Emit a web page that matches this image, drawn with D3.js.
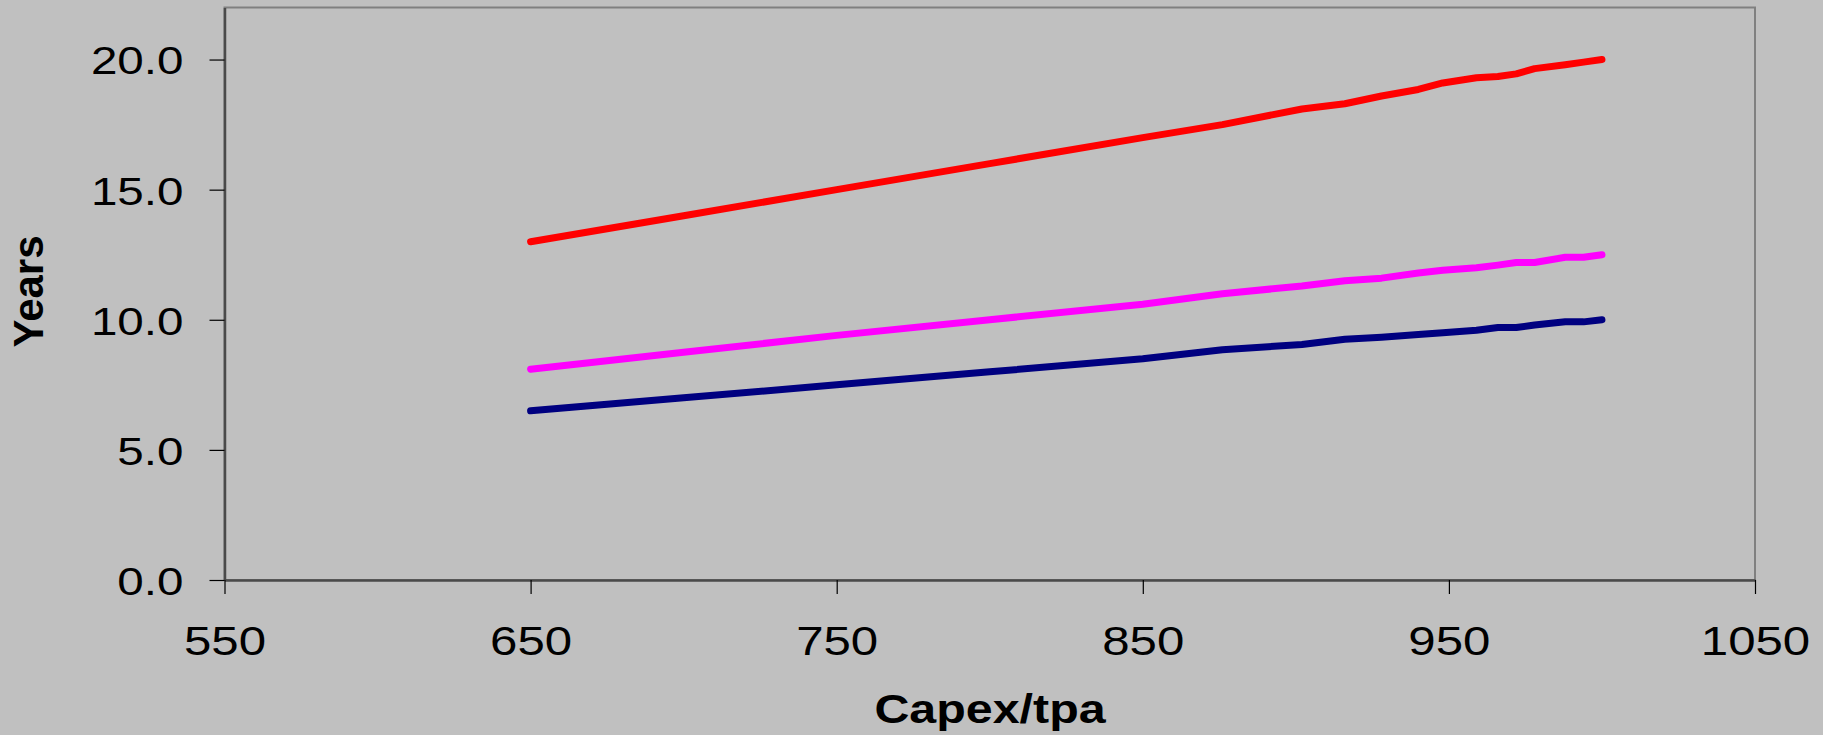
<!DOCTYPE html>
<html>
<head>
<meta charset="utf-8">
<script src="https://cdn.jsdelivr.net/npm/d3@7"></script>
<style>
  html, body { margin: 0; padding: 0; background: #C0C0C0; }
  svg { display: block; }
  text { font-family: "Liberation Sans", Arial, sans-serif; fill: #000; }
</style>
</head>
<body>
<svg id="chart" width="1823" height="735"></svg>
<script>
// Capex/tpa values (x) shared by all series
const capex = [650, 700, 750, 800, 850, 876, 902, 916, 928, 940, 948, 959, 966, 972, 978, 988, 994, 1000];
// Payback years per series
const redYears     = [13.0, 14.0, 15.0, 16.0, 17.0, 17.5, 18.1, 18.3, 18.6, 18.85, 19.1, 19.3, 19.35, 19.45, 19.65, 19.8, 19.9, 20.0];
const magentaYears = [8.1, 8.75, 9.4, 10.0, 10.6, 11.0, 11.3, 11.5, 11.6, 11.8, 11.9, 12.0, 12.1, 12.2, 12.2, 12.4, 12.4, 12.5];
const navyYears    = [6.5, 7.0, 7.5, 8.0, 8.5, 8.85, 9.05, 9.25, 9.33, 9.43, 9.5, 9.6, 9.7, 9.7, 9.8, 9.92, 9.92, 10.0];
const seriesColors = ["#FF0000", "#FF00FF", "#000080"];
const xTicks = [550, 650, 750, 850, 950, 1050];
const yTicks = [0, 5, 10, 15, 20];
const xTitle = "Capex/tpa";
const yTitle = "Years";

const svg = d3.select("#chart");
const L = 224.5, R = 1755, T = 7.5, B = 580;

const x = d3.scaleLinear().domain([550, 1050]).range([L, R]);
const y = d3.scaleLinear().domain([0, 22]).range([B, T]);

svg.append("rect").attr("width", 1823).attr("height", 735).attr("fill", "#C0C0C0");

// plot area border (top/right)
svg.append("rect")
  .attr("x", L).attr("y", T).attr("width", R - L).attr("height", B - T)
  .attr("fill", "#C0C0C0").attr("stroke", "#808080").attr("stroke-width", 2);

// Y axis
const yAxis = svg.append("g").attr("transform", `translate(${L},0)`)
  .call(d3.axisLeft(y).tickValues(yTicks).tickFormat(d3.format(".1f")).tickSize(15).tickSizeOuter(0));
yAxis.select(".domain").attr("stroke", "#4a4a4a").attr("stroke-width", 2.5);
yAxis.selectAll(".tick line").attr("stroke", "#000").attr("stroke-width", 1.2);
yAxis.selectAll(".tick text")
  .attr("x", null).attr("dy", null)
  .attr("font-size", 39).attr("font-family", "Liberation Sans, Arial, sans-serif")
  .attr("text-anchor", "end").attr("dominant-baseline", "central")
  .attr("transform", "translate(-41,1) scale(1.22,1)");

// X axis
const xAxis = svg.append("g").attr("transform", `translate(0,${B})`)
  .call(d3.axisBottom(x).tickValues(xTicks).tickFormat(d3.format("d")).tickSize(14).tickSizeOuter(0));
xAxis.select(".domain").attr("stroke", "#4a4a4a").attr("stroke-width", 2.5);
xAxis.selectAll(".tick line").attr("stroke", "#000").attr("stroke-width", 1.2);
xAxis.selectAll(".tick text")
  .attr("y", null).attr("dy", null)
  .attr("font-size", 41).attr("font-family", "Liberation Sans, Arial, sans-serif")
  .attr("text-anchor", "middle")
  .attr("transform", "translate(0,75) scale(1.2,1)");

// Lines
const line = d3.line().x(d => x(d[0])).y(d => y(d[1]));
[redYears, magentaYears, navyYears].forEach((vals, i) => {
  svg.append("path")
    .datum(capex.map((c, j) => [c, vals[j]]))
    .attr("d", line)
    .attr("fill", "none")
    .attr("stroke", seriesColors[i])
    .attr("stroke-width", 7)
    .attr("stroke-linecap", "round")
    .attr("stroke-linejoin", "round");
});

// Axis titles
svg.append("text")
  .attr("transform", `translate(990,723) scale(1.18,1)`)
  .attr("text-anchor", "middle")
  .attr("font-size", 41).attr("font-weight", "bold")
  .text(xTitle);

svg.append("text")
  .attr("transform", `translate(43,291.5) rotate(-90)`)
  .attr("text-anchor", "middle")
  .attr("font-size", 42).attr("font-weight", "bold")
  .text(yTitle);
</script>
</body>
</html>
